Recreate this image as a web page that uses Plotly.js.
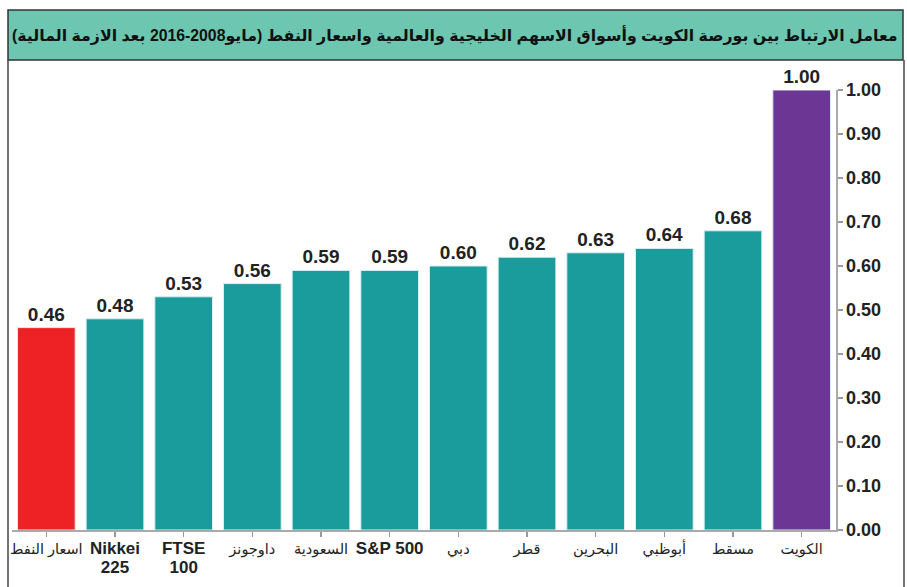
<!DOCTYPE html>
<html><head><meta charset="utf-8">
<script src="https://cdn.plot.ly/plotly-3.0.1.min.js"></script>
<style>body{margin:0;background:#fff}#chart{width:907px;height:587px}</style>
</head><body><div id="chart"></div>
<script>
const categories = ["اسعار النفط","<b><span style='font-size:17px'>Nikkei<br>225</span></b>","<b><span style='font-size:17px'>FTSE<br>100</span></b>","داوجونز","السعودية","<b><span style='font-size:17px'>S&P 500</span></b>","دبي","قطر","البحرين","أبوظبي","مسقط","الكويت"];
const values = [0.46,0.48,0.53,0.56,0.59,0.59,0.60,0.62,0.63,0.64,0.68,1.00];
const barColors = ["#ee2224","#1a9c9c","#1a9c9c","#1a9c9c","#1a9c9c","#1a9c9c","#1a9c9c","#1a9c9c","#1a9c9c","#1a9c9c","#1a9c9c","#6c3794"];
const yTicks = [0,0.1,0.2,0.3,0.4,0.5,0.6,0.7,0.8,0.9,1.0];
const titleText = "معامل الارتباط بين بورصة الكويت وأسواق الاسهم الخليجية والعالمية واسعار النفط (مايو2008-2016 بعد الازمة المالية)";

const font = "Liberation Sans Narrow, Arial Narrow, Liberation Sans, DejaVu Sans, sans-serif";
const idx = categories.map((c,i)=>i);

const trace = {
  type: "bar",
  x: idx,
  y: values,
  marker: {color: barColors, line: {color: "#d8efee", width: 1}},
  text: values.map(v=>v.toFixed(2)),
  textposition: "outside",
  cliponaxis: false,
  textfont: {family: font, size: 19, color: "#222", weight: "bold"},
  hoverinfo: "none"
};

const layout = {
  width: 907, height: 587,
  margin: {l: 12, r: 71, t: 90, b: 57},
  paper_bgcolor: "#fff", plot_bgcolor: "#fff",
  showlegend: false,
  bargap: 0.16,
  xaxis: {
    tickmode: "array", tickvals: idx, ticktext: categories,
    range: [-0.5, 11.5],
    tickson: "boundaries",
    ticks: "outside", ticklen: 5, tickcolor: "#999", tickwidth: 1.5,
    showline: true, linecolor: "#aaa", linewidth: 1.5,
    showgrid: false, zeroline: false,
    tickfont: {family: font, size: 14.5, color: "#222"},
    tickangle: 0
  },
  yaxis: {
    side: "right", range: [0, 1.0],
    tickmode: "array", tickvals: yTicks, ticktext: yTicks.map(v=>v.toFixed(2)),
    ticks: "outside", ticklen: 5, tickcolor: "#999", tickwidth: 1.5,
    showline: true, linecolor: "#aaa", linewidth: 1.5,
    showgrid: false, zeroline: false,
    tickfont: {family: font, size: 18, color: "#222", weight: "bold"}
  },
  shapes: [
    {type: "rect", xref: "paper", yref: "paper",
     x0: (8-12)/824, x1: (903-12)/824, y0: (587-57-60)/440, y1: (587-57-10)/440,
     fillcolor: "#6dc6b0", line: {color: "#333", width: 1.5}, layer: "below"},
    {type: "line", xref: "paper", yref: "paper",
     x0: (8-12)/824, x1: (8-12)/824, y0: (587-57-60)/440, y1: -57/440,
     line: {color: "#444", width: 1.5}},
    {type: "line", xref: "paper", yref: "paper",
     x0: (904-12)/824, x1: (904-12)/824, y0: (587-57-60)/440, y1: -57/440,
     line: {color: "#444", width: 1.5}}
  ],
  annotations: [
    {xref: "paper", yref: "paper", x: (455-12)/824, y: (587-57-35)/440,
     xanchor: "center", yanchor: "middle", showarrow: false,
     text: titleText,
     font: {family: font, size: 15.8, color: "#111", weight: "bold"}}
  ]
};

Plotly.newPlot("chart", [trace], layout, {displayModeBar: false, staticPlot: true});
</script></body></html>
